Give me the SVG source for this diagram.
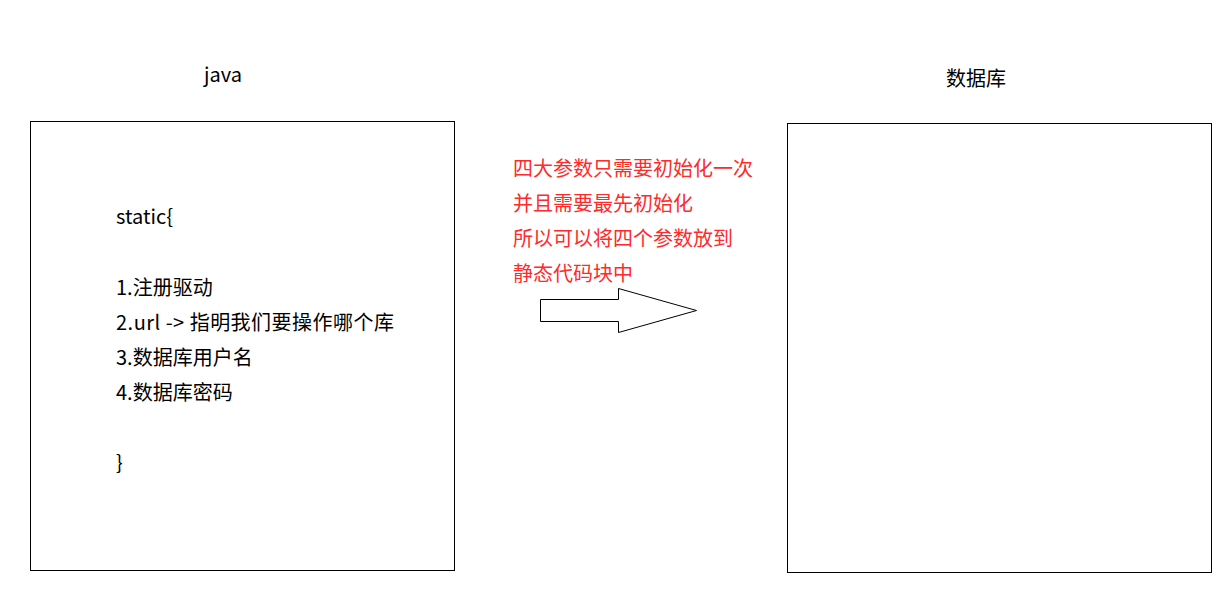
<svg xmlns="http://www.w3.org/2000/svg" width="1225" height="597" viewBox="0 0 1225 597">
<style>
text{font-family:"Noto Sans CJK SC","Liberation Sans",sans-serif;font-size:20px;fill:#000}
.red{fill:#ff2a2a}
.box{fill:#fff;stroke:#000;stroke-width:1}
</style>
<rect width="1225" height="597" fill="#fff"/>
<g id="java-title"><text x="204" y="82">java</text></g>
<g id="db-title"><text x="946" y="86">数据库</text></g>
<g id="java-box">
<rect class="box" x="30.500" y="121.500" width="424" height="449"/>
<text x="116" y="224">static{</text>
<text x="116" y="295">1.注册驱动</text>
<text x="116" y="330" textLength="278" lengthAdjust="spacing">2.url -&gt; 指明我们要操作哪个库</text>
<text x="116" y="365">3.数据库用户名</text>
<text x="116" y="400">4.数据库密码</text>
<text x="116" y="470">}</text>
</g>
<g id="db-box">
<rect class="box" x="787.500" y="123.500" width="424" height="449"/>
</g>
<g id="note">
<text class="red" x="513" y="176">四大参数只需要初始化一次</text>
<text class="red" x="513" y="211">并且需要最先初始化</text>
<text class="red" x="513" y="246">所以可以将四个参数放到</text>
<text class="red" x="513" y="281">静态代码块中</text>
</g>
<g id="connectors">
<polygon class="box" points="540.500,299.500 618.500,299.500 618.500,288.500 696.500,310.500 618.500,332.500 618.500,321.500 540.500,321.500"/>
</g>
</svg>
